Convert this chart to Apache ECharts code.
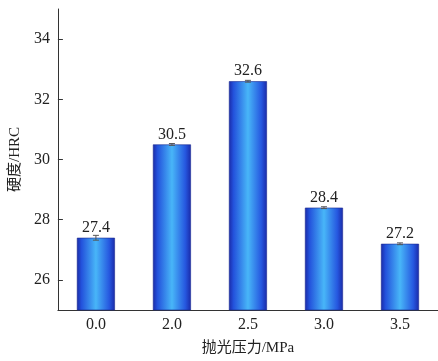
<!DOCTYPE html>
<html>
<head>
<meta charset="utf-8">
<script src="https://cdn.jsdelivr.net/npm/echarts@6/dist/echarts.min.js"></script>
<style>
  html, body { margin: 0; padding: 0; background: #fff; }
  #chart { width: 438px; height: 361px; }
</style>
</head>
<body>
<div id="chart"></div>
<script>
// Polishing pressure (MPa) vs. hardness (HRC)
const pressures = ['0.0', '2.0', '2.5', '3.0', '3.5'];
const hardness = [27.4, 30.5, 32.6, 28.4, 27.2];
const hardnessErr = [0.08, 0.03, 0.03, 0.03, 0.03];
const yTicks = [26, 28, 30, 32, 34];

const serif = '"Liberation Serif", "Times New Roman", "Noto Sans CJK SC", serif';
const axisColor = '#333';

const barGradient = new echarts.graphic.LinearGradient(0, 0, 1, 0, [
  { offset: 0, color: '#1a2aa8' },
  { offset: 0.12, color: '#2352dc' },
  { offset: 0.5, color: '#48b6f8' },
  { offset: 0.85, color: '#2658e0' },
  { offset: 1, color: '#1a2aa8' }
]);

const chart = echarts.init(document.getElementById('chart'), null, { renderer: 'canvas' });

chart.setOption({
  animation: false,
  grid: { left: 54, right: -3, top: 9, bottom: 50, containLabel: false },
  xAxis: {
    type: 'category',
    data: pressures,
    name: '抛光压力/MPa',
    nameLocation: 'middle',
    nameGap: 31,
    nameTextStyle: { fontFamily: serif, fontSize: 15, color: '#222' },
    axisLine: { lineStyle: { color: axisColor, width: 1 } },
    axisTick: { inside: true, alignWithLabel: true, length: 5, lineStyle: { color: axisColor } },
    axisLabel: { fontFamily: serif, fontSize: 16, color: '#222', margin: 7 }
  },
  yAxis: {
    type: 'value',
    min: 25,
    max: 35,
    name: '硬度/HRC',
    nameLocation: 'middle',
    nameRotate: 90,
    nameGap: 27,
    nameTextStyle: { fontFamily: serif, fontSize: 15, color: '#222' },
    splitLine: { show: false },
    axisLine: { show: true, lineStyle: { color: axisColor, width: 1 } },
    axisTick: { show: true, inside: true, length: 5, customValues: yTicks, lineStyle: { color: axisColor } },
    axisLabel: { fontFamily: serif, fontSize: 16, color: '#222', margin: 8, customValues: yTicks }
  },
  series: [
    {
      type: 'bar',
      data: hardness,
      barWidth: '50%',
      itemStyle: { color: barGradient, borderColor: '#1a2a90', borderWidth: 0.6 },
      label: {
        show: true,
        position: 'top',
        distance: 2,
        fontFamily: serif,
        fontSize: 16,
        color: '#222',
        formatter: p => p.value.toFixed(1)
      },
      z: 2
    },
    {
      type: 'custom',
      data: hardness.map((v, i) => [i, v - hardnessErr[i], v + hardnessErr[i]]),
      renderItem: function (params, api) {
        const lo = api.coord([api.value(0), api.value(1)]);
        const hi = api.coord([api.value(0), api.value(2)]);
        const hw = 3;
        const style = { stroke: '#555', lineWidth: 1 };
        return {
          type: 'group',
          children: [
            { type: 'line', shape: { x1: lo[0], y1: lo[1], x2: hi[0], y2: hi[1] }, style },
            { type: 'line', shape: { x1: lo[0] - hw, y1: lo[1], x2: lo[0] + hw, y2: lo[1] }, style },
            { type: 'line', shape: { x1: hi[0] - hw, y1: hi[1], x2: hi[0] + hw, y2: hi[1] }, style }
          ]
        };
      },
      z: 3
    }
  ]
});
</script>
</body>
</html>
